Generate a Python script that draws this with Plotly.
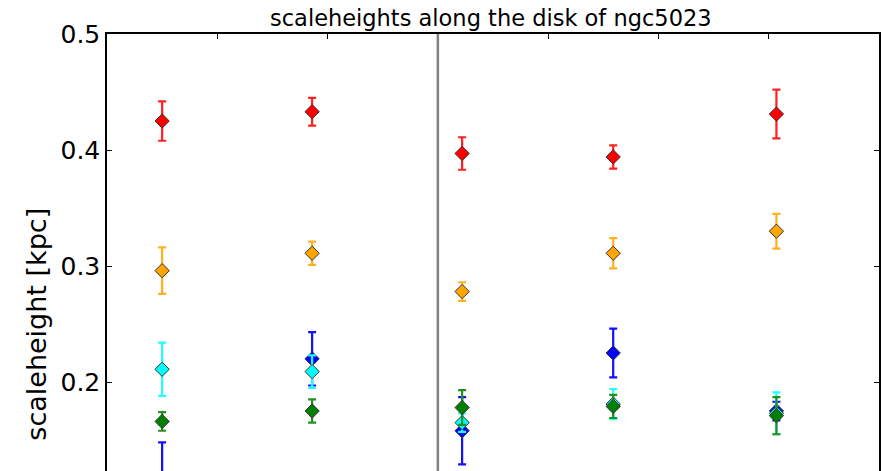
import plotly.graph_objects as go

# positions along the disk (arbitrary units, gray line at 0)
positions = [-2.50, -1.14, 0.22, 1.59, 3.07]

# series values (scaleheight in kpc) and symmetric errors
red_vals = [0.425, 0.433, 0.397, 0.394, 0.431]
red_errs = [0.017, 0.012, 0.014, 0.010, 0.021]
orange_vals = [0.296, 0.311, 0.278, 0.311, 0.330]
orange_errs = [0.020, 0.010, 0.008, 0.013, 0.015]
blue_vals = [0.114, 0.220, 0.158, 0.225, 0.175]
blue_errs = [0.034, 0.023, 0.029, 0.021, 0.008]
cyan_vals = [0.211, 0.209, 0.165, 0.181, 0.173]
cyan_errs = [0.023, 0.014, 0.008, 0.013, 0.018]
green_vals = [0.166, 0.175, 0.178, 0.179, 0.171]
green_errs = [0.008, 0.010, 0.015, 0.010, 0.016]

series = [
    ("red", red_vals, red_errs, "#ff0000", "#ff2020"),
    ("orange", orange_vals, orange_errs, "#ffa500", "#ffb020"),
    ("blue", blue_vals, blue_errs, "#0000ff", "#1010ff"),
    ("cyan", cyan_vals, cyan_errs, "#00ffff", "#20ffff"),
    ("green", green_vals, green_errs, "#007f00", "#209020"),
]

fig = go.Figure()
for name, vals, errs, col, ecol in series:
    fig.add_trace(go.Scatter(
        x=positions, y=vals, mode="markers", name=name,
        marker=dict(symbol="diamond", size=11, color=col,
                    line=dict(color="#333333", width=1)),
        error_y=dict(type="data", array=errs, visible=True,
                     color=ecol, thickness=2.2, width=4),
        showlegend=False,
    ))

fig.add_shape(type="line", xref="x", yref="paper", x0=0, x1=0, y0=0, y1=1,
              line=dict(color="#808080", width=2.5))

fig.update_layout(
    width=881, height=471,
    margin=dict(l=107, r=2, t=34, b=0),
    paper_bgcolor="white", plot_bgcolor="white",
    font=dict(family="DejaVu Sans", color="black"),
    xaxis=dict(range=[-3, 4], side="top", showline=True, linecolor="black",
               linewidth=1.5, ticks="inside", ticklen=5, tickcolor="black",
               dtick=1, tick0=0, showticklabels=False, showgrid=False,
               zeroline=False),
    yaxis=dict(range=[0.1233, 0.5], showline=True, linecolor="black",
               linewidth=1.5, mirror="ticks", ticks="inside", ticklen=5,
               tickcolor="black", tickvals=[0.2, 0.3, 0.4, 0.5],
               ticktext=["0.2", "0.3", "0.4", "0.5"],
               tickfont=dict(size=25, family="DejaVu Sans"),
               showgrid=False, zeroline=False),
    annotations=[
        dict(text="scaleheight [kpc]", xref="paper", yref="paper",
             x=-0.0913, y=0.336, xanchor="center", yanchor="middle",
             showarrow=False, textangle=-90,
             font=dict(size=27, family="DejaVu Sans")),
        dict(text="scaleheights along the disk of ngc5023", xref="paper",
             yref="paper", x=0.497, y=1, xanchor="center", yanchor="bottom",
             yshift=1, showarrow=False,
             font=dict(size=22.5, family="DejaVu Sans")),
    ],
)

fig.write_html("out.html")
